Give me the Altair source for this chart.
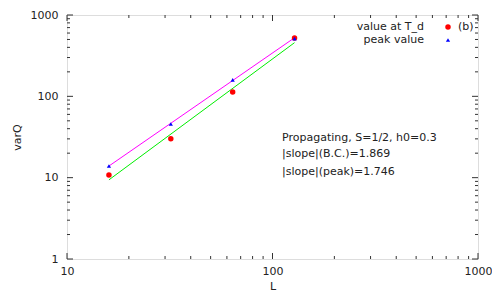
import altair as alt
import pandas as pd

# data
L = [16, 32, 64, 128]
value_at_Td = [10.8, 30.0, 113, 520]
peak_value = [13.9, 45.7, 159, 512]
fit_L = [16, 128]
fit_bc = [9.4, 457]
fit_peak = [13.9, 525]

x_major = [10, 100, 1000]
x_minor = [20, 30, 40, 50, 60, 70, 80, 90, 200, 300, 400, 500, 600, 700, 800, 900]
y_major = [1, 10, 100, 1000]
y_minor = [2, 3, 4, 5, 6, 7, 8, 9, 20, 30, 40, 50, 60, 70, 80, 90, 200, 300, 400, 500, 600, 700, 800, 900]

legend_labels = ["value at T_d", "peak value"]
ann_lines = ["Propagating, S=1/2, h0=0.3", "|slope|(B.C.)=1.869", "|slope|(peak)=1.746"]

W, H = 411, 244
FONT = "DejaVu Sans"
AX = "#333333"
TXT = "#222222"

xs = alt.Scale(type="log", domain=[10, 1000], nice=False)
ys = alt.Scale(type="log", domain=[1, 1000], nice=False)

pts = pd.DataFrame({"L": L, "td": value_at_Td, "pk": peak_value})
fits = pd.DataFrame({"L": fit_L, "bc": fit_bc, "pk": fit_peak})

base_axes = alt.Chart(pts).mark_point(opacity=0).encode(
    x=alt.X("L:Q", scale=xs, title="L",
            axis=alt.Axis(values=x_major, format="d", ticks=False, domain=False, grid=False,
                          labelFont=FONT, labelFontSize=11, labelColor=TXT, labelPadding=6,
                          titleFont=FONT, titleFontSize=11, titleFontWeight="normal",
                          titleColor=TXT, titlePadding=4, labelFlush=False)),
    y=alt.Y("td:Q", scale=ys, title="varQ",
            axis=alt.Axis(values=y_major, format="d", ticks=False, domain=False, grid=False,
                          labelFont=FONT, labelFontSize=11, labelColor=TXT, labelPadding=9,
                          titleFont=FONT, titleFontSize=11, titleFontWeight="normal",
                          titleColor=TXT, titlePadding=8, labelFlush=False)),
)

line_bc = alt.Chart(fits).mark_line(color="#00ee00", strokeWidth=1).encode(
    x=alt.X("L:Q", scale=xs), y=alt.Y("bc:Q", scale=ys))
line_pk = alt.Chart(fits).mark_line(color="#ff00ff", strokeWidth=1).encode(
    x=alt.X("L:Q", scale=xs), y=alt.Y("pk:Q", scale=ys))

red = alt.Chart(pts).mark_point(shape="circle", filled=True, color="#ff0000", size=30, opacity=1).encode(
    x=alt.X("L:Q", scale=xs), y=alt.Y("td:Q", scale=ys))
blue = alt.Chart(pts).mark_point(shape="triangle-up", filled=True, color="#0000ff", size=18, opacity=1).encode(
    x=alt.X("L:Q", scale=xs), y=alt.Y("pk:Q", scale=ys))


def tick_layer(vals, axis, length):
    d = pd.DataFrame({"v": vals})
    if axis == "x":
        b = alt.Chart(d).mark_rule(color=AX, strokeWidth=1).encode(
            x=alt.X("v:Q", scale=xs), y=alt.value(H), y2=alt.value(H - length))
        t = alt.Chart(d).mark_rule(color=AX, strokeWidth=1).encode(
            x=alt.X("v:Q", scale=xs), y=alt.value(0), y2=alt.value(length))
    else:
        b = alt.Chart(d).mark_rule(color=AX, strokeWidth=1).encode(
            y=alt.Y("v:Q", scale=ys), x=alt.value(0), x2=alt.value(length))
        t = alt.Chart(d).mark_rule(color=AX, strokeWidth=1).encode(
            y=alt.Y("v:Q", scale=ys), x=alt.value(W), x2=alt.value(W - length))
    return b + t


ticks = (tick_layer(x_major, "x", 6) + tick_layer(x_minor, "x", 3)
         + tick_layer(y_major, "y", 6) + tick_layer(y_minor, "y", 3))


def text_at(s, px, py, align="left"):
    return alt.Chart(pd.DataFrame({"t": [s]})).mark_text(
        align=align, baseline="middle", font=FONT, fontSize=11, color=TXT).encode(
        text="t:N", x=alt.value(px), y=alt.value(py))


leg_red = alt.Chart(pd.DataFrame({"t": [0]})).mark_point(
    shape="circle", filled=True, color="#ff0000", size=30, opacity=1).encode(
    x=alt.value(381), y=alt.value(12))
leg_blue = alt.Chart(pd.DataFrame({"t": [0]})).mark_point(
    shape="triangle-up", filled=True, color="#0000ff", size=18, opacity=1).encode(
    x=alt.value(381), y=alt.value(25))

chart = alt.layer(
    base_axes, ticks, line_pk, line_bc, red, blue,
    text_at(legend_labels[0], 357, 12, "right"),
    text_at(legend_labels[1], 357, 25, "right"),
    text_at("(b)", 391, 12),
    leg_red, leg_blue,
    text_at(ann_lines[0], 215, 123),
    text_at(ann_lines[1], 215, 139),
    text_at(ann_lines[2], 215, 157),
).properties(
    width=W, height=H,
    autosize=alt.AutoSizeParams(type="none"),
    padding={"left": 59, "top": 7, "right": 14, "bottom": 33},
).configure_view(stroke=AX, strokeWidth=1).configure(background="white")

chart.save("out.html", embed_options={"renderer": "svg", "actions": False})
